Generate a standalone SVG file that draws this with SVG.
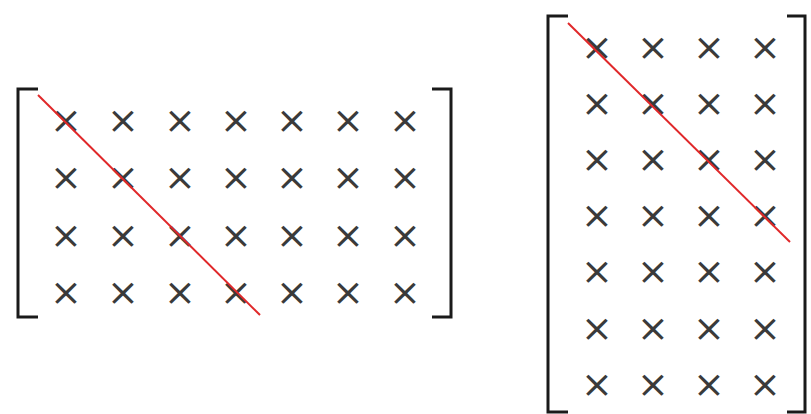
<svg xmlns="http://www.w3.org/2000/svg" width="811" height="414" viewBox="0 0 811 414">
<style>
.br{fill:none;stroke:#1a1a1a;stroke-width:3;stroke-linecap:butt}
.x{font-family:"DejaVu Sans",sans-serif;font-size:38px;fill:#3a3a3a;text-anchor:middle;dominant-baseline:central}
.diag{stroke:#e0282a;stroke-width:2;fill:none}
</style>
<rect width="811" height="414" fill="#ffffff"/>
<g id="matrix-left">
<path class="br" d="M38,89 H18 V317 H38"/>
<path class="br" d="M432,89 H451 V317 H432"/>
<g>
<text class="x" x="66" y="120">×</text><text class="x" x="123" y="120">×</text><text class="x" x="180" y="120">×</text><text class="x" x="236" y="120">×</text><text class="x" x="292" y="120">×</text><text class="x" x="348" y="120">×</text><text class="x" x="405" y="120">×</text>
<text class="x" x="66" y="177">×</text><text class="x" x="123" y="177">×</text><text class="x" x="180" y="177">×</text><text class="x" x="236" y="177">×</text><text class="x" x="292" y="177">×</text><text class="x" x="348" y="177">×</text><text class="x" x="405" y="177">×</text>
<text class="x" x="66" y="235">×</text><text class="x" x="123" y="235">×</text><text class="x" x="180" y="235">×</text><text class="x" x="236" y="235">×</text><text class="x" x="292" y="235">×</text><text class="x" x="348" y="235">×</text><text class="x" x="405" y="235">×</text>
<text class="x" x="66" y="292">×</text><text class="x" x="123" y="292">×</text><text class="x" x="180" y="292">×</text><text class="x" x="236" y="292">×</text><text class="x" x="292" y="292">×</text><text class="x" x="348" y="292">×</text><text class="x" x="405" y="292">×</text>
</g>
</g>
<g id="matrix-right">
<path class="br" d="M568,16 H548 V412 H568"/>
<path class="br" d="M787,16 H805 V412 H787"/>
<g>
<text class="x" x="597" y="47">×</text><text class="x" x="653" y="47">×</text><text class="x" x="709" y="47">×</text><text class="x" x="765" y="47">×</text>
<text class="x" x="597" y="103">×</text><text class="x" x="653" y="103">×</text><text class="x" x="709" y="103">×</text><text class="x" x="765" y="103">×</text>
<text class="x" x="597" y="159">×</text><text class="x" x="653" y="159">×</text><text class="x" x="709" y="159">×</text><text class="x" x="765" y="159">×</text>
<text class="x" x="597" y="215">×</text><text class="x" x="653" y="215">×</text><text class="x" x="709" y="215">×</text><text class="x" x="765" y="215">×</text>
<text class="x" x="597" y="271">×</text><text class="x" x="653" y="271">×</text><text class="x" x="709" y="271">×</text><text class="x" x="765" y="271">×</text>
<text class="x" x="597" y="328">×</text><text class="x" x="653" y="328">×</text><text class="x" x="709" y="328">×</text><text class="x" x="765" y="328">×</text>
<text class="x" x="597" y="384">×</text><text class="x" x="653" y="384">×</text><text class="x" x="709" y="384">×</text><text class="x" x="765" y="384">×</text>
</g>
</g>
<g id="connectors">
<line class="diag" x1="38" y1="95" x2="260" y2="315"/>
<line class="diag" x1="568" y1="23" x2="790" y2="242"/>
</g>
</svg>
